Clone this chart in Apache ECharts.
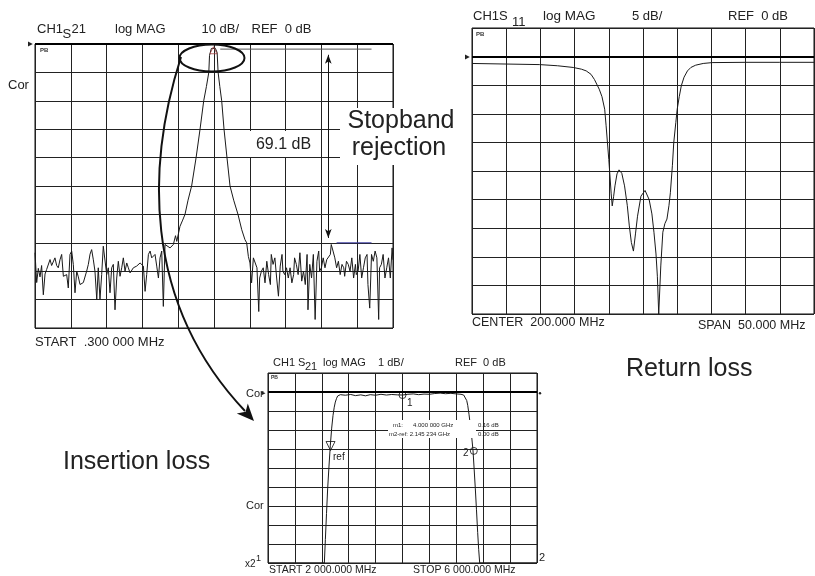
<!DOCTYPE html>
<html>
<head>
<meta charset="utf-8">
<script src="https://cdn.jsdelivr.net/npm/echarts@6/dist/echarts.min.js"></script>
<style>
html,body{margin:0;padding:0;background:#fff;}
#c{width:815px;height:576px;}
</style>
</head>
<body>
<div id="c"></div>
<script>
// ---------- DATA ----------
// Chart 1: wideband S21 (10 dB/div, REF 0 dB), x = sweep point index 0..400
const s21WideLeftNoise = [
[0,-73.5],[1.9,-84],[3.7,-79],[5.6,-82],[7.4,-78],[9.3,-88.3],[11.2,-81],[13,-79.4],[14.9,-80],[16.8,-75.9],
[18.6,-78],[20.5,-78.2],[22.3,-75.3],[24.2,-78],[26,-78.8],[27.9,-76],[29.8,-74.1],[31.7,-81.8],[33.5,-82],[35.4,-81.2],
[37.2,-85.9],[39.1,-74.1],[41,-72.9],[42.8,-77.6],[44.7,-87.6],[46.6,-80],[48.4,-82],[50.3,-84.7],[54,-84],[57.7,-80],
[59.6,-77.6],[61.5,-74],[63.3,-72.4],[65.2,-76],[67,-80],[69,-90],[70.7,-78.8],[72.6,-90],[74.5,-81.2],[76.3,-71.2],
[78.2,-71.5],[80.1,-81.2],[81.9,-78.8],[83.8,-87.6],[85.7,-78.8],[87.5,-77.6],[89.4,-93.6],[91.3,-82.4],[93.1,-76.5],[95,-81.8],
[96.9,-78.8],[98.7,-75.3],[100.6,-80],[102.5,-77.1],[104.3,-78.8],[106.2,-80.6],[108,-80],[109.9,-78.8],[113.6,-78.2],[117.4,-77.1],
[121.1,-78.2],[123,-87.1],[124.8,-81.2],[126.7,-74.1],[128.6,-72.9],[130.4,-75.3],[132.3,-75.9],[134.1,-74.1],[136,-78.2],[137.9,-82.4],
[139.7,-75.3],[141.6,-72.9],[143.4,-92.4],[145.3,-70.6],[147.2,-71.2],[150.9,-71.8],[154.6,-70.6],[157,-67.5],[158.4,-69.5]
];
const s21WidePassband = [
[160,-70],[162,-64.2],[165,-62],[167.6,-60],[171,-55],[175,-50],[180,-40],[184.4,-30],[188.5,-20],[191.5,-15],
[194.2,-10],[195,-4],[197,-1.6],[199,-1.2],[201.5,-1.5],[203.5,-3],[204.6,-10],[206.5,-15],[208.6,-20],[211.2,-30],
[214.5,-40],[217.9,-50],[222,-55],[226.8,-60],[231,-65.4],[234.6,-68.9],[236.5,-70],[238.4,-74.8],[240.2,-77.1]
];
const s21WideRightNoise = [
[242,-84.1],[244,-75.3],[246,-74.7],[248,-78.8],[250,-94.2],[251,-82.4],[253,-80],[255,-78.8],[257,-84.1],[259,-76.5],
[261,-81.2],[263,-84.7],[264,-74.1],[266,-77.6],[268,-75.3],[270,-82.4],[272,-88.8],[274,-78.2],[276,-74.1],[277,-80],
[279,-81.2],[281,-78.8],[283,-82.4],[285,-78.8],[287,-84.1],[289,-81.2],[290,-75.3],[292,-77.6],[294,-81.2],[296,-73.5],
[298,-83.5],[300,-80],[302,-84.7],[304,-74.1],[305,-93.6],[307,-77.6],[309,-82.4],[311,-74.1],[313,-97],[315,-76.5],
[317,-72.9],[318,-80],[320,-78.8],[322,-75.3],[324,-78.8],[326,-75.9],[328,-76.5],[330,-74.1],[331,-70.6],[333,-72.9],
[335,-75.3],[337,-78.8],[339,-76.5],[341,-81.2],[343,-77.6],[345,-78.8],[346,-81.8],[348,-76.5],[350,-77.6],[352,-80],
[354,-75.3],[356,-82.4],[358,-77.6],[359,-81.2],[361,-80],[363,-74.1],[365,-82.4],[367,-78.8],[369,-75.3],[371,-74.1],
[372,-84.7],[374,-93],[376,-74.1],[378,-76.5],[380,-72.9],[382,-75.3],[384,-97],[385,-78.8],[387,-77.6],[389,-74.1],
[391,-82.4],[393,-78.8],[395,-75.3],[397,-82.4],[399,-71.8],[400,-76]
];
const s21WidePeakMarker = [[199.4,-2.2]];
const s21WidePeakLevel = [[207,-1.8],[376,-1.8]];
const s21WideRejLevel = [[337,-70],[376,-70]];
const rejectionArrow = {x:327.7, top:-3.8, bottom:-68.3};
const rejectionLabel = '69.1 dB';

// Chart 2: S11 return loss (5 dB/div, REF 0 dB), x = MHz, 175..225
const s11Trace = [
[175,-1.2],[180,-1.3],[184.9,-1.4],[187.5,-1.6],[189.8,-1.9],[191,-2.2],[191.7,-2.5],[192.4,-3.1],[192.9,-4.0],[193.6,-5.7],
[194,-7],[194.4,-9.2],[194.6,-12],[194.8,-15],[195,-18],[195.2,-21.4],[195.35,-24],[195.5,-26.1],[195.7,-24.5],[195.9,-22.6],
[196.2,-20.5],[196.5,-19.8],[196.9,-20.4],[197.3,-22.6],[197.7,-26],[198,-29.6],[198.3,-32.5],[198.6,-34],[198.9,-31],[199.2,-27.9],
[199.7,-24.4],[200.3,-23.4],[200.9,-25],[201.3,-27.5],[201.6,-30.7],[201.9,-34.5],[202.1,-38.4],[202.3,-45],[202.6,-36.6],[202.9,-30.7],
[203.2,-29.2],[203.5,-28.4],[203.8,-26],[204,-23.8],[204.3,-19],[204.5,-15],[204.8,-11.5],[205,-9.2],[205.3,-7],[205.6,-5.1],
[206,-3.6],[206.5,-2.5],[207,-1.9],[207.7,-1.5],[208.8,-1.2],[210.1,-1.05],[215,-1.0],[220,-1.0],[225,-1.0]
];

// Chart 3: S21 passband (1 dB/div, REF 0 dB), x = MHz, 2000..6000
const s21PassTrace = [
[2000,-9],[2838,-9],[2853,-7.76],[2870,-6.4],[2887,-5.1],[2907,-3.9],[2927,-2.8],[2947,-1.9],[2967,-1.23],[2985,-0.8],
[3001,-0.53],[3020,-0.33],[3036,-0.21],[3076,-0.14],[3150,-0.17],[3230,-0.13],[3300,-0.19],[3380,-0.15],[3450,-0.2],[3520,-0.14],
[3600,-0.17],[3680,-0.12],[3760,-0.16],[3840,-0.13],[3920,-0.15],[4000,-0.16],[4080,-0.12],[4160,-0.1],[4240,-0.14],[4320,-0.11],
[4400,-0.12],[4480,-0.08],[4560,-0.06],[4640,-0.09],[4720,-0.07],[4800,-0.1],[4870,-0.12],[4910,-0.16],[4935,-0.26],[4955,-0.45],
[4970,-0.7],[4990,-1.2],[5009,-1.76],[5030,-2.4],[5049,-3.1],[5066,-4.1],[5083,-5.1],[5100,-6.2],[5118,-7.4],[5133,-8.3],
[5148,-9],[6000,-9]
];
const marker1 = [4000,-0.16];
const marker2 = [5060,-3.1];
const markerRef = [2930,-3.0];
const markerText1 = ['m1:', '4.000 000 GHz', '0.16 dB'];
const markerText2 = ['m2-ref: 2.145 234 GHz', '0.00 dB'];

// Axis ranges
const ax1 = {xmin:0, xmax:400, xint:40, ymin:-100, ymax:0, yint:10};
const ax2 = {xmin:175, xmax:225, xint:5, ymin:-45, ymax:5, yint:5};
const ax3 = {xmin:2000, xmax:6000, xint:400, ymin:-9, ymax:1, yint:1};

// ---------- CHART ----------
const FONT = '"Liberation Sans", Arial, Helvetica, sans-serif';
const INK = '#1a1a1a';
const chart = echarts.init(document.getElementById('c'));

function xA(a, gi){
  return {type:'value', gridIndex:gi, min:a.xmin, max:a.xmax, interval:a.xint,
    axisLine:{show:false}, axisTick:{show:false}, axisLabel:{show:false},
    splitLine:{show:true, lineStyle:{color:'#222', width:1}}};
}
function yA(a, gi){
  return {type:'value', gridIndex:gi, min:a.ymin, max:a.ymax, interval:a.yint,
    axisLine:{show:false}, axisTick:{show:false}, axisLabel:{show:false},
    splitLine:{show:true, lineStyle:{color:'#222', width:1}}};
}
function txt(text, x, y, size, opts){
  opts = opts || {};
  return {type:'text', x:x, y:y, z:101, silent:true,
    style:{text:text, font:(opts.weight||'normal')+' '+size+'px '+FONT, fill:opts.color||'#222',
      textAlign:opts.align||'left', textVerticalAlign:'middle', align:opts.align||'left', verticalAlign:'middle'}};
}
function box(x,y,w,h){
  return {type:'rect', z:100, silent:true, shape:{x:x,y:y,width:w,height:h}, style:{fill:'#fff'}};
}
function tri(x,y,s){
  return {type:'polygon', z:100, silent:true, shape:{points:[[x-s,y-s*0.8],[x+s*0.6,y],[x-s,y+s*0.8]]}, style:{fill:'#222'}};
}
const refLine = (w) => ({symbol:'none', silent:true, label:{show:false},
  lineStyle:{color:'#000', width:w, type:'solid'}, data:[{yAxis:0}]});

// arrowhead geometry for curved arrow (annotation)
const tip = [254,421];

const option = {
  animation:false,
  backgroundColor:'#fff',
  grid:[
    {left:35, top:44, width:358, height:284, show:true, borderColor:'#111', borderWidth:1, backgroundColor:'transparent'},
    {left:472, top:28, width:342, height:286, show:true, borderColor:'#111', borderWidth:1, backgroundColor:'transparent'},
    {left:268, top:373, width:269, height:190, show:true, borderColor:'#111', borderWidth:1, backgroundColor:'transparent'}
  ],
  xAxis:[xA(ax1,0), xA(ax2,1), xA(ax3,2)],
  yAxis:[yA(ax1,0), yA(ax2,1), yA(ax3,2)],
  series:[
    {type:'line', xAxisIndex:0, yAxisIndex:0, data:s21WideLeftNoise.concat(s21WidePassband, s21WideRightNoise),
      symbol:'none', lineStyle:{color:INK, width:1}, z:3, markLine:refLine(2)},
    {type:'line', xAxisIndex:0, yAxisIndex:0, data:s21WidePeakLevel, symbol:'none',
      lineStyle:{color:'#555', width:1}, z:3,
      markLine:{silent:true, label:{show:false}, symbol:['arrow','arrow'], symbolSize:[5,9],
        lineStyle:{color:'#111', width:1, type:'solid'}, itemStyle:{color:'#1b1b55'},
        data:[[{coord:[rejectionArrow.x, rejectionArrow.top]},{coord:[rejectionArrow.x, rejectionArrow.bottom]}]]}},
    {type:'line', xAxisIndex:0, yAxisIndex:0, data:s21WideRejLevel, symbol:'none',
      lineStyle:{color:'#3a3aa0', width:1}, z:3},
    {type:'scatter', xAxisIndex:0, yAxisIndex:0, data:s21WidePeakMarker, symbol:'triangle', symbolSize:7,
      itemStyle:{color:'transparent', borderColor:'#a04040', borderWidth:1}, z:4},

    {type:'line', xAxisIndex:1, yAxisIndex:1, data:s11Trace, symbol:'none',
      lineStyle:{color:INK, width:1}, z:3, markLine:refLine(2)},

    {type:'line', xAxisIndex:2, yAxisIndex:2, data:s21PassTrace, symbol:'none',
      lineStyle:{color:INK, width:1}, z:3, markLine:refLine(2)},
    {type:'scatter', xAxisIndex:2, yAxisIndex:2, data:[marker1, marker2], symbol:'circle', symbolSize:7,
      itemStyle:{color:'transparent', borderColor:'#111', borderWidth:1}, z:4},
    {type:'scatter', xAxisIndex:2, yAxisIndex:2, data:[markerRef], symbol:'triangle', symbolRotate:180, symbolSize:9,
      symbolOffset:[0,-3], itemStyle:{color:'transparent', borderColor:'#111', borderWidth:1}, z:4}
  ],
  graphic:[
    // masks behind annotation text
    box(247,131,71,26),
    box(340,108,122,57),
    box(388,420,88,18),

    // ---- chart 1 texts
    txt('CH1',37,29,13), txt('S',62.5,34.5,13), txt('21',71.5,29,13),
    txt('log MAG',115,29,13), txt('10 dB/',201.5,29,13), txt('REF  0 dB',251.5,29,13),
    txt('Cor',8,85,13),
    txt('START  .300 000 MHz',35,342,13),
    txt(rejectionLabel,283.5,145,16,{align:'center'}),
    txt('Stopband',401,121,25,{align:'center'}),
    txt('rejection',399,148,25,{align:'center'}),
    {type:'text', x:40, y:50, z:101, silent:true, style:{text:'PB', font:'bold 6px '+FONT, fill:'#333', textVerticalAlign:'middle', verticalAlign:'middle'}},
    tri(31,44,3),

    // ---- chart 2 texts
    txt('CH1S',473,16,13), txt('11',512,22.5,13),
    txt('log MAG',543,16,13.5), txt('5 dB/',632,16,13), txt('REF  0 dB',728,16,13),
    txt('CENTER  200.000 MHz',472,323,12.5),
    txt('SPAN  50.000 MHz',698,326,12.5),
    {type:'text', x:476, y:34, z:101, silent:true, style:{text:'PB', font:'bold 6px '+FONT, fill:'#333', textVerticalAlign:'middle', verticalAlign:'middle'}},
    tri(468,57,3),
    txt('Return loss',626,369,25),

    // ---- chart 3 texts
    txt('CH1 S',273,363,11), txt('21',305,366.5,11),
    txt('log MAG',323,363,11), txt('1 dB/',378,363,11), txt('REF  0 dB',455,363,11),
    txt('Cor',246,393.5,11), txt('Cor',246,505.7,11),
    txt('x2',245,564,10), txt('1',256,559,9), txt('2',539,558,11),
    txt('START 2 000.000 MHz',269,570,10.5), txt('STOP 6 000.000 MHz',413,570,10.5),
    txt('1',407,403,10), txt('ref',333,457.5,10), txt('2',463,453,10),
    txt(markerText1[0],393,425,6), txt(markerText1[1],413,425,6), txt(markerText1[2],478,425,6),
    txt(markerText2[0],389,434.5,6), txt(markerText2[1],478,434.5,6),
    {type:'text', x:271, y:378, z:101, silent:true, style:{text:'PB', font:'bold 5px '+FONT, fill:'#333', textVerticalAlign:'middle', verticalAlign:'middle'}},
    tri(264,393.3,2.5),
    {type:'circle', z:100, silent:true, shape:{cx:540,cy:393.3,r:1.2}, style:{fill:'#222'}},
    txt('Insertion loss',63,462,25),

    // ---- callout ellipse and curved arrow
    {type:'ellipse', z:102, silent:true, shape:{cx:212, cy:58, rx:32.5, ry:13.5}, style:{stroke:'#111', lineWidth:2, fill:'none'}},
    {type:'bezierCurve', z:102, silent:true,
      shape:{x1:181, y1:57, cpx1:148, cpy1:160, cpx2:140, cpy2:300, x2:245, y2:411},
      style:{stroke:'#111', lineWidth:2, fill:'none'}},
    {type:'polygon', z:102, silent:true,
      shape:{points:[tip,[236.8,413.6],[245.6,411.8],[247.8,403.4]]}, style:{fill:'#111'}}
  ]
};
chart.setOption(option);
</script>
</body>
</html>
